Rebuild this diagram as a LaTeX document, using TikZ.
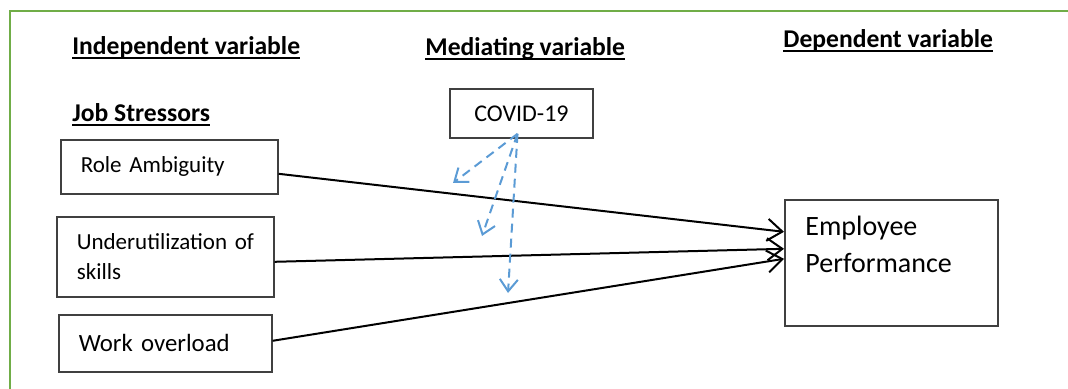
\documentclass[tikz,border=0pt]{standalone}
\usepackage{fontspec}
\setmainfont{Carlito}
\usetikzlibrary{arrows.meta,positioning}
\definecolor{framegreen}{HTML}{70AD47}
\definecolor{covidblue}{HTML}{5B9BD5}
\definecolor{boxgray}{HTML}{404040}
% underlined heading text, rule just under the baseline
\newcommand{\ulhead}[1]{\setbox0\hbox{#1}\rlap{\rule[-1.9pt]{\wd0}{0.75pt}}\box0}

\begin{document}
\begin{tikzpicture}[x=0.5pt, y=-0.5pt,
    heading/.style={font=\fontsize{12.8}{15}\selectfont\bfseries, anchor=base west, inner sep=0pt},
    varbox/.style={draw=boxgray, line width=0.8pt, anchor=north west, align=left,
        inner xsep=10pt, font=\fontsize{11.5}{15}\selectfont},
    effect/.style={line width=1pt, -{Straight Barb[length=7.5pt,width=11pt]}},
    mediates/.style={covidblue, line width=1pt, dash pattern=on 4.5pt off 3pt,
        -{Straight Barb[length=6pt,width=9pt]}}]
    \useasboundingbox (0,0) rectangle (1068,389);

    % Frame
    \draw[framegreen, line width=1.4pt] (10,389) -- (10,11) -- (1068,11);

    % Column headings
    \node[heading] (indep) at (72,55) {\ulhead{Independent variable}};
    \node[heading] (stress) at (72,122) {\ulhead{Job Stressors}};
    \node[heading] (medi) at (425,56) {\ulhead{Mediating variable}};
    \node[heading] (dep) at (783,48) {\ulhead{Dependent variable}};

    % Stressor boxes
    \node[varbox, text width=88.5pt, minimum height=27pt] (role) at (60,139) {Role Ambiguity};
    \node[varbox, text width=88.5pt, minimum height=40pt] (under) at (56,216) {Underutilization~of\\skills};
    \node[varbox, text width=86.5pt, minimum height=28.5pt,
        font=\fontsize{12.4}{15}\selectfont] (work) at (58,314) {Work overload};

    % Mediator
    \node[draw=boxgray, line width=0.8pt, minimum width=71.5pt, minimum height=24.5pt,
        font=\fontsize{12}{14}\selectfont] (covid) at (521.5,113.5) {COVID-19};

    % Outcome
    \node[draw=boxgray, line width=0.8pt, anchor=north west, minimum width=106.5pt,
        minimum height=63pt] (perf) at (784,199) {};
    \node[anchor=base west, inner sep=0pt, align=left, text width=86pt,
        font=\fontsize{14}{18}\selectfont] (perftext) at (805,236) {Employee\\Performance};

    % Direct effects
    \draw[effect] ([yshift=-3.5pt]role.east) -- ([yshift=15.5pt]perf.west);
    \draw[effect] ([yshift=-2.5pt]under.east) -- ([yshift=7pt]perf.west);
    \draw[effect] ([yshift=1.25pt]work.east) -- ([yshift=2pt]perf.west);

    % COVID-19 paths
    \coordinate (covidout) at ([xshift=-2pt,yshift=2.5pt]covid.south);
    \coordinate (m1) at (453,183);
    \coordinate (m2) at (482,236);
    \coordinate (m3) at (508,293);
    \draw[mediates] (covidout) -- (m1);
    \draw[mediates] (covidout) -- (m2);
    \draw[mediates] (covidout) -- (m3);
\end{tikzpicture}
\end{document}
